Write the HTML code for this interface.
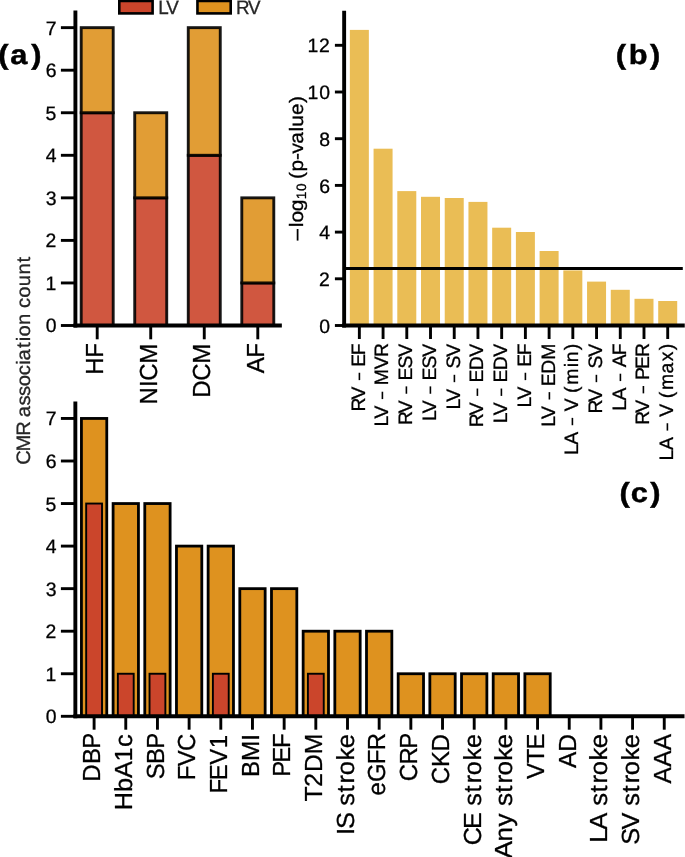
<!DOCTYPE html>
<html><head><meta charset="utf-8"><style>
html,body{margin:0;padding:0;background:#fff;}
body{width:685px;height:857px;overflow:hidden;}
svg{display:block;font-family:"Liberation Sans",sans-serif;will-change:transform;}
text{white-space:pre;text-rendering:geometricPrecision;}
</style></head><body>
<svg width="685" height="857" viewBox="0 0 685 857">
<rect width="685" height="857" fill="#fff"/>
<rect x="81.20" y="112.75" width="32.00" height="212.75" fill="#CB452B" stroke="#000" stroke-width="2.9" fill-opacity="0.9" stroke-opacity="0.9"/>
<rect x="81.20" y="27.65" width="32.00" height="85.10" fill="#DE921F" stroke="#000" stroke-width="2.9" fill-opacity="0.9" stroke-opacity="0.9"/>
<rect x="134.73" y="197.85" width="32.00" height="127.65" fill="#CB452B" stroke="#000" stroke-width="2.9" fill-opacity="0.9" stroke-opacity="0.9"/>
<rect x="134.73" y="112.75" width="32.00" height="85.10" fill="#DE921F" stroke="#000" stroke-width="2.9" fill-opacity="0.9" stroke-opacity="0.9"/>
<rect x="188.26" y="155.30" width="32.00" height="170.20" fill="#CB452B" stroke="#000" stroke-width="2.9" fill-opacity="0.9" stroke-opacity="0.9"/>
<rect x="188.26" y="27.65" width="32.00" height="127.65" fill="#DE921F" stroke="#000" stroke-width="2.9" fill-opacity="0.9" stroke-opacity="0.9"/>
<rect x="241.79" y="282.95" width="32.00" height="42.55" fill="#CB452B" stroke="#000" stroke-width="2.9" fill-opacity="0.9" stroke-opacity="0.9"/>
<rect x="241.79" y="197.85" width="32.00" height="85.10" fill="#DE921F" stroke="#000" stroke-width="2.9" fill-opacity="0.9" stroke-opacity="0.9"/>
<line x1="75.40" y1="10.60" x2="75.40" y2="327.45" stroke="#000" stroke-width="3.9" stroke-linecap="butt"/>
<line x1="73.45" y1="325.50" x2="281.85" y2="325.50" stroke="#000" stroke-width="3.9" stroke-linecap="butt"/>
<line x1="60.90" y1="325.50" x2="75.40" y2="325.50" stroke="#000" stroke-width="2.9" stroke-linecap="butt"/>
<text transform="translate(56.90 332.45) scale(1.0000 1)" x="-11.23" y="0" font-size="19.4" fill="#000" stroke="#000" stroke-width="0.3">0</text>
<line x1="60.90" y1="282.95" x2="75.40" y2="282.95" stroke="#000" stroke-width="2.9" stroke-linecap="butt"/>
<text transform="translate(56.90 289.90) scale(1.0000 1)" x="-11.33" y="0" font-size="19.4" fill="#000" stroke="#000" stroke-width="0.3">1</text>
<line x1="60.90" y1="240.40" x2="75.40" y2="240.40" stroke="#000" stroke-width="2.9" stroke-linecap="butt"/>
<text transform="translate(56.90 247.35) scale(1.0000 1)" x="-11.47" y="0" font-size="19.4" fill="#000" stroke="#000" stroke-width="0.3">2</text>
<line x1="60.90" y1="197.85" x2="75.40" y2="197.85" stroke="#000" stroke-width="2.9" stroke-linecap="butt"/>
<text transform="translate(56.90 204.80) scale(1.0000 1)" x="-11.20" y="0" font-size="19.4" fill="#000" stroke="#000" stroke-width="0.3">3</text>
<line x1="60.90" y1="155.30" x2="75.40" y2="155.30" stroke="#000" stroke-width="2.9" stroke-linecap="butt"/>
<text transform="translate(56.90 162.25) scale(1.0000 1)" x="-11.23" y="0" font-size="19.4" fill="#000" stroke="#000" stroke-width="0.3">4</text>
<line x1="60.90" y1="112.75" x2="75.40" y2="112.75" stroke="#000" stroke-width="2.9" stroke-linecap="butt"/>
<text transform="translate(56.90 119.70) scale(1.0000 1)" x="-11.30" y="0" font-size="19.4" fill="#000" stroke="#000" stroke-width="0.3">5</text>
<line x1="60.90" y1="70.20" x2="75.40" y2="70.20" stroke="#000" stroke-width="2.9" stroke-linecap="butt"/>
<text transform="translate(56.90 77.15) scale(1.0000 1)" x="-11.23" y="0" font-size="19.4" fill="#000" stroke="#000" stroke-width="0.3">6</text>
<line x1="60.90" y1="27.65" x2="75.40" y2="27.65" stroke="#000" stroke-width="2.9" stroke-linecap="butt"/>
<text transform="translate(56.90 34.60) scale(1.0000 1)" x="-11.27" y="0" font-size="19.4" fill="#000" stroke="#000" stroke-width="0.3">7</text>
<line x1="97.20" y1="325.50" x2="97.20" y2="339.30" stroke="#000" stroke-width="2.9" stroke-linecap="butt"/>
<text transform="translate(103.30 343.80) rotate(-90) scale(0.9700 1)" x="-31.80 -14.50" y="0" font-size="24.7" fill="#000" stroke="#000" stroke-width="0.3">HF</text>
<line x1="150.73" y1="325.50" x2="150.73" y2="339.30" stroke="#000" stroke-width="2.9" stroke-linecap="butt"/>
<text transform="translate(156.83 343.80) rotate(-90) scale(0.9700 1)" x="-62.56 -44.52 -38.20 -20.66" y="0" font-size="24.7" fill="#000" stroke="#000" stroke-width="0.3">NICM</text>
<line x1="204.26" y1="325.50" x2="204.26" y2="339.30" stroke="#000" stroke-width="2.9" stroke-linecap="butt"/>
<text transform="translate(210.36 343.80) rotate(-90) scale(0.9700 1)" x="-55.68 -38.20 -20.66" y="0" font-size="24.7" fill="#000" stroke="#000" stroke-width="0.3">DCM</text>
<line x1="257.79" y1="325.50" x2="257.79" y2="339.30" stroke="#000" stroke-width="2.9" stroke-linecap="butt"/>
<text transform="translate(263.89 343.80) rotate(-90) scale(0.9700 1)" x="-30.30 -14.50" y="0" font-size="24.7" fill="#000" stroke="#000" stroke-width="0.3">AF</text>
<rect x="119.30" y="0.95" width="33.30" height="12.45" fill="#CB452B" stroke="#000" stroke-width="2.6"/>
<text transform="translate(158.10 13.80) scale(0.9700 1)" x="0.27 8.44" y="0" font-size="19.4" fill="#262626" stroke="#262626" stroke-width="0.3">LV</text>
<rect x="197.45" y="0.95" width="33.25" height="12.45" fill="#DE921F" stroke="#000" stroke-width="2.6"/>
<text transform="translate(236.20 13.80) scale(0.9700 1)" x="-0.13 12.09" y="0" font-size="19.4" fill="#262626" stroke="#262626" stroke-width="0.3">RV</text>
<text transform="translate(-2.30 63.60) scale(1.1200 1)" x="0.54 11.28 30.03" y="0" font-size="27.5" fill="#000" font-weight="bold" stroke="#000" stroke-width="0.45">(a)</text>
<rect x="349.85" y="29.90" width="19.00" height="295.60" fill="#EABD55"/>
<rect x="373.57" y="148.70" width="19.00" height="176.80" fill="#EABD55"/>
<rect x="397.29" y="191.10" width="19.00" height="134.40" fill="#EABD55"/>
<rect x="421.01" y="196.80" width="19.00" height="128.70" fill="#EABD55"/>
<rect x="444.73" y="198.00" width="19.00" height="127.50" fill="#EABD55"/>
<rect x="468.45" y="201.90" width="19.00" height="123.60" fill="#EABD55"/>
<rect x="492.17" y="227.70" width="19.00" height="97.80" fill="#EABD55"/>
<rect x="515.89" y="232.00" width="19.00" height="93.50" fill="#EABD55"/>
<rect x="539.61" y="251.00" width="19.00" height="74.50" fill="#EABD55"/>
<rect x="563.33" y="270.40" width="19.00" height="55.10" fill="#EABD55"/>
<rect x="587.05" y="281.60" width="19.00" height="43.90" fill="#EABD55"/>
<rect x="610.77" y="289.80" width="19.00" height="35.70" fill="#EABD55"/>
<rect x="634.49" y="298.80" width="19.00" height="26.70" fill="#EABD55"/>
<rect x="658.21" y="301.00" width="19.00" height="24.50" fill="#EABD55"/>
<line x1="344.15" y1="268.50" x2="682.80" y2="268.50" stroke="#000" stroke-width="2.9" stroke-linecap="butt"/>
<line x1="344.15" y1="10.65" x2="344.15" y2="327.45" stroke="#000" stroke-width="3.9" stroke-linecap="butt"/>
<line x1="342.20" y1="325.50" x2="684.75" y2="325.50" stroke="#000" stroke-width="3.9" stroke-linecap="butt"/>
<line x1="334.90" y1="325.50" x2="344.15" y2="325.50" stroke="#000" stroke-width="2.9" stroke-linecap="butt"/>
<text transform="translate(330.40 332.60) scale(1.0000 1)" x="-11.23" y="0" font-size="19.4" fill="#000" stroke="#000" stroke-width="0.3">0</text>
<line x1="334.90" y1="278.80" x2="344.15" y2="278.80" stroke="#000" stroke-width="2.9" stroke-linecap="butt"/>
<text transform="translate(330.40 285.90) scale(1.0000 1)" x="-11.47" y="0" font-size="19.4" fill="#000" stroke="#000" stroke-width="0.3">2</text>
<line x1="334.90" y1="232.10" x2="344.15" y2="232.10" stroke="#000" stroke-width="2.9" stroke-linecap="butt"/>
<text transform="translate(330.40 239.20) scale(1.0000 1)" x="-11.23" y="0" font-size="19.4" fill="#000" stroke="#000" stroke-width="0.3">4</text>
<line x1="334.90" y1="185.40" x2="344.15" y2="185.40" stroke="#000" stroke-width="2.9" stroke-linecap="butt"/>
<text transform="translate(330.40 192.50) scale(1.0000 1)" x="-11.23" y="0" font-size="19.4" fill="#000" stroke="#000" stroke-width="0.3">6</text>
<line x1="334.90" y1="138.70" x2="344.15" y2="138.70" stroke="#000" stroke-width="2.9" stroke-linecap="butt"/>
<text transform="translate(330.40 145.80) scale(1.0000 1)" x="-11.23" y="0" font-size="19.4" fill="#000" stroke="#000" stroke-width="0.3">8</text>
<line x1="334.90" y1="92.00" x2="344.15" y2="92.00" stroke="#000" stroke-width="2.9" stroke-linecap="butt"/>
<text transform="translate(330.40 99.10) scale(1.0000 1)" x="-22.99 -11.23" y="0" font-size="19.4" fill="#000" stroke="#000" stroke-width="0.3">10</text>
<line x1="334.90" y1="45.30" x2="344.15" y2="45.30" stroke="#000" stroke-width="2.9" stroke-linecap="butt"/>
<text transform="translate(330.40 52.40) scale(1.0000 1)" x="-22.99 -11.47" y="0" font-size="19.4" fill="#000" stroke="#000" stroke-width="0.3">12</text>
<line x1="359.35" y1="325.50" x2="359.35" y2="339.00" stroke="#000" stroke-width="2.9" stroke-linecap="butt"/>
<text transform="translate(364.75 343.90) rotate(-90) scale(1.0000 1)" x="-67.56 -55.69 -42.72 -37.92 -27.73 -22.87 -11.24" y="0" font-size="19.4" fill="#000" stroke="#000" stroke-width="0.3">RV   EF</text>
<line x1="359.40" y1="380.12" x2="359.40" y2="372.75" stroke="#000" stroke-width="1.6" stroke-linecap="butt"/>
<line x1="383.07" y1="325.50" x2="383.07" y2="339.00" stroke="#000" stroke-width="2.9" stroke-linecap="butt"/>
<text transform="translate(388.47 343.90) rotate(-90) scale(1.0000 1)" x="-82.56 -74.65 -61.69 -56.89 -46.70 -41.26 -25.48 -13.08" y="0" font-size="19.4" fill="#000" stroke="#000" stroke-width="0.3">LV   MVR</text>
<line x1="382.40" y1="399.09" x2="382.40" y2="391.71" stroke="#000" stroke-width="1.6" stroke-linecap="butt"/>
<line x1="406.79" y1="325.50" x2="406.79" y2="339.00" stroke="#000" stroke-width="2.9" stroke-linecap="butt"/>
<text transform="translate(412.19 343.90) rotate(-90) scale(1.0000 1)" x="-81.19 -69.32 -56.36 -51.56 -41.36 -36.50 -24.73 -12.74" y="0" font-size="19.4" fill="#000" stroke="#000" stroke-width="0.3">RV   ESV</text>
<line x1="406.40" y1="393.75" x2="406.40" y2="386.38" stroke="#000" stroke-width="1.6" stroke-linecap="butt"/>
<line x1="430.51" y1="325.50" x2="430.51" y2="339.00" stroke="#000" stroke-width="2.9" stroke-linecap="butt"/>
<text transform="translate(435.91 343.90) rotate(-90) scale(1.0000 1)" x="-77.22 -69.32 -56.36 -51.56 -41.36 -36.50 -24.73 -12.74" y="0" font-size="19.4" fill="#000" stroke="#000" stroke-width="0.3">LV   ESV</text>
<line x1="430.40" y1="393.75" x2="430.40" y2="386.38" stroke="#000" stroke-width="1.6" stroke-linecap="butt"/>
<line x1="454.23" y1="325.50" x2="454.23" y2="339.00" stroke="#000" stroke-width="2.9" stroke-linecap="butt"/>
<text transform="translate(459.63 343.90) rotate(-90) scale(1.0000 1)" x="-65.64 -57.74 -44.77 -39.97 -29.78 -24.73 -12.74" y="0" font-size="19.4" fill="#000" stroke="#000" stroke-width="0.3">LV   SV</text>
<line x1="454.40" y1="382.17" x2="454.40" y2="374.80" stroke="#000" stroke-width="1.6" stroke-linecap="butt"/>
<line x1="477.95" y1="325.50" x2="477.95" y2="339.00" stroke="#000" stroke-width="2.9" stroke-linecap="butt"/>
<text transform="translate(483.35 343.90) rotate(-90) scale(1.0000 1)" x="-83.35 -71.48 -58.51 -53.71 -43.52 -38.66 -26.25 -12.74" y="0" font-size="19.4" fill="#000" stroke="#000" stroke-width="0.3">RV   EDV</text>
<line x1="477.40" y1="395.91" x2="477.40" y2="388.53" stroke="#000" stroke-width="1.6" stroke-linecap="butt"/>
<line x1="501.67" y1="325.50" x2="501.67" y2="339.00" stroke="#000" stroke-width="2.9" stroke-linecap="butt"/>
<text transform="translate(507.07 343.90) rotate(-90) scale(1.0000 1)" x="-79.38 -71.48 -58.51 -53.71 -43.52 -38.66 -26.25 -12.74" y="0" font-size="19.4" fill="#000" stroke="#000" stroke-width="0.3">LV   EDV</text>
<line x1="501.40" y1="395.91" x2="501.40" y2="388.53" stroke="#000" stroke-width="1.6" stroke-linecap="butt"/>
<line x1="525.39" y1="325.50" x2="525.39" y2="339.00" stroke="#000" stroke-width="2.9" stroke-linecap="butt"/>
<text transform="translate(530.79 343.90) rotate(-90) scale(1.0000 1)" x="-63.59 -55.69 -42.72 -37.92 -27.73 -22.87 -11.24" y="0" font-size="19.4" fill="#000" stroke="#000" stroke-width="0.3">LV   EF</text>
<line x1="525.40" y1="380.12" x2="525.40" y2="372.75" stroke="#000" stroke-width="1.6" stroke-linecap="butt"/>
<line x1="549.11" y1="325.50" x2="549.11" y2="339.00" stroke="#000" stroke-width="2.9" stroke-linecap="butt"/>
<text transform="translate(554.51 343.90) rotate(-90) scale(1.0000 1)" x="-82.98 -75.07 -62.11 -57.31 -47.12 -42.26 -29.85 -15.98" y="0" font-size="19.4" fill="#000" stroke="#000" stroke-width="0.3">LV   EDM</text>
<line x1="549.40" y1="399.51" x2="549.40" y2="392.13" stroke="#000" stroke-width="1.6" stroke-linecap="butt"/>
<line x1="572.83" y1="325.50" x2="572.83" y2="339.00" stroke="#000" stroke-width="2.9" stroke-linecap="butt"/>
<text transform="translate(578.23 343.90) rotate(-90) scale(1.0000 1)" x="-111.14 -100.80 -87.83 -83.03 -72.84 -67.44 -54.48 -49.01 -40.82 -23.46 -18.32 -6.31" y="0" font-size="19.4" fill="#000" stroke="#000" stroke-width="0.3">LA   V (min)</text>
<line x1="572.40" y1="425.23" x2="572.40" y2="417.86" stroke="#000" stroke-width="1.6" stroke-linecap="butt"/>
<line x1="596.55" y1="325.50" x2="596.55" y2="339.00" stroke="#000" stroke-width="2.9" stroke-linecap="butt"/>
<text transform="translate(601.95 343.90) rotate(-90) scale(1.0000 1)" x="-69.61 -57.74 -44.77 -39.97 -29.78 -24.73 -12.74" y="0" font-size="19.4" fill="#000" stroke="#000" stroke-width="0.3">RV   SV</text>
<line x1="596.40" y1="382.17" x2="596.40" y2="374.80" stroke="#000" stroke-width="1.6" stroke-linecap="butt"/>
<line x1="620.27" y1="325.50" x2="620.27" y2="339.00" stroke="#000" stroke-width="2.9" stroke-linecap="butt"/>
<text transform="translate(625.67 343.90) rotate(-90) scale(1.0000 1)" x="-66.98 -56.64 -43.68 -38.88 -28.69 -23.29 -11.24" y="0" font-size="19.4" fill="#000" stroke="#000" stroke-width="0.3">LA   AF</text>
<line x1="620.40" y1="381.08" x2="620.40" y2="373.70" stroke="#000" stroke-width="1.6" stroke-linecap="butt"/>
<line x1="643.99" y1="325.50" x2="643.99" y2="339.00" stroke="#000" stroke-width="2.9" stroke-linecap="butt"/>
<text transform="translate(649.39 343.90) rotate(-90) scale(1.0000 1)" x="-80.81 -68.93 -55.97 -51.17 -40.98 -36.01 -25.06 -13.08" y="0" font-size="19.4" fill="#000" stroke="#000" stroke-width="0.3">RV   PER</text>
<line x1="643.40" y1="393.37" x2="643.40" y2="385.99" stroke="#000" stroke-width="1.6" stroke-linecap="butt"/>
<line x1="667.71" y1="325.50" x2="667.71" y2="339.00" stroke="#000" stroke-width="2.9" stroke-linecap="butt"/>
<text transform="translate(673.11 343.90) rotate(-90) scale(1.0000 1)" x="-116.51 -106.17 -93.20 -88.40 -78.21 -72.81 -59.85 -54.38 -46.19 -29.70 -17.47 -6.31" y="0" font-size="19.4" fill="#000" stroke="#000" stroke-width="0.3">LA   V (max)</text>
<line x1="667.40" y1="430.60" x2="667.40" y2="423.23" stroke="#000" stroke-width="1.6" stroke-linecap="butt"/>
<line x1="297.60" y1="229.00" x2="297.60" y2="240.60" stroke="#000" stroke-width="1.75" stroke-linecap="butt"/>
<text transform="translate(303.30 227.40) rotate(-90) scale(1.0793 1)" x="0.20 4.52 15.02" y="0" font-size="19.4" fill="#000" stroke="#000" stroke-width="0.3">log</text>
<text transform="translate(306.40 199.50) rotate(-90) scale(1.0000 1)" x="0.23 8.46" y="0" font-size="13.6" fill="#000" stroke="#000" stroke-width="0.3">10</text>
<text transform="translate(303.30 178.70) rotate(-90) scale(1.0729 1)" x="-0.39 6.78 17.36 23.42 32.49 44.01 48.53 59.27 70.48" y="0" font-size="19.4" fill="#000" stroke="#000" stroke-width="0.3">(p-value)</text>
<text transform="translate(660.80 63.60) scale(1.1200 1)" x="-40.21 -28.63 -9.69" y="0" font-size="27.5" fill="#000" font-weight="bold" stroke="#000" stroke-width="0.45">(b)</text>
<rect x="81.43" y="418.45" width="25.34" height="297.85" fill="#DE921F" stroke="#000" stroke-width="2.8"/>
<rect x="86.18" y="503.55" width="15.84" height="212.75" fill="#CB452B" stroke="#000" stroke-width="1.9"/>
<rect x="113.10" y="503.55" width="25.34" height="212.75" fill="#DE921F" stroke="#000" stroke-width="2.8"/>
<rect x="117.85" y="673.75" width="15.84" height="42.55" fill="#CB452B" stroke="#000" stroke-width="1.9"/>
<rect x="144.78" y="503.55" width="25.34" height="212.75" fill="#DE921F" stroke="#000" stroke-width="2.8"/>
<rect x="149.53" y="673.75" width="15.84" height="42.55" fill="#CB452B" stroke="#000" stroke-width="1.9"/>
<rect x="176.46" y="546.10" width="25.34" height="170.20" fill="#DE921F" stroke="#000" stroke-width="2.8"/>
<rect x="208.13" y="546.10" width="25.34" height="170.20" fill="#DE921F" stroke="#000" stroke-width="2.8"/>
<rect x="212.88" y="673.75" width="15.84" height="42.55" fill="#CB452B" stroke="#000" stroke-width="1.9"/>
<rect x="239.81" y="588.65" width="25.34" height="127.65" fill="#DE921F" stroke="#000" stroke-width="2.8"/>
<rect x="271.48" y="588.65" width="25.34" height="127.65" fill="#DE921F" stroke="#000" stroke-width="2.8"/>
<rect x="303.15" y="631.20" width="25.34" height="85.10" fill="#DE921F" stroke="#000" stroke-width="2.8"/>
<rect x="307.90" y="673.75" width="15.84" height="42.55" fill="#CB452B" stroke="#000" stroke-width="1.9"/>
<rect x="334.83" y="631.20" width="25.34" height="85.10" fill="#DE921F" stroke="#000" stroke-width="2.8"/>
<rect x="366.50" y="631.20" width="25.34" height="85.10" fill="#DE921F" stroke="#000" stroke-width="2.8"/>
<rect x="398.18" y="673.75" width="25.34" height="42.55" fill="#DE921F" stroke="#000" stroke-width="2.8"/>
<rect x="429.85" y="673.75" width="25.34" height="42.55" fill="#DE921F" stroke="#000" stroke-width="2.8"/>
<rect x="461.53" y="673.75" width="25.34" height="42.55" fill="#DE921F" stroke="#000" stroke-width="2.8"/>
<rect x="493.20" y="673.75" width="25.34" height="42.55" fill="#DE921F" stroke="#000" stroke-width="2.8"/>
<rect x="524.88" y="673.75" width="25.34" height="42.55" fill="#DE921F" stroke="#000" stroke-width="2.8"/>
<line x1="75.35" y1="401.45" x2="75.35" y2="718.25" stroke="#000" stroke-width="3.9" stroke-linecap="butt"/>
<line x1="73.40" y1="716.30" x2="684.50" y2="716.30" stroke="#000" stroke-width="3.9" stroke-linecap="butt"/>
<line x1="60.90" y1="716.30" x2="75.35" y2="716.30" stroke="#000" stroke-width="2.9" stroke-linecap="butt"/>
<text transform="translate(56.90 723.25) scale(1.0000 1)" x="-11.23" y="0" font-size="19.4" fill="#000" stroke="#000" stroke-width="0.3">0</text>
<line x1="60.90" y1="673.75" x2="75.35" y2="673.75" stroke="#000" stroke-width="2.9" stroke-linecap="butt"/>
<text transform="translate(56.90 680.70) scale(1.0000 1)" x="-11.33" y="0" font-size="19.4" fill="#000" stroke="#000" stroke-width="0.3">1</text>
<line x1="60.90" y1="631.20" x2="75.35" y2="631.20" stroke="#000" stroke-width="2.9" stroke-linecap="butt"/>
<text transform="translate(56.90 638.15) scale(1.0000 1)" x="-11.47" y="0" font-size="19.4" fill="#000" stroke="#000" stroke-width="0.3">2</text>
<line x1="60.90" y1="588.65" x2="75.35" y2="588.65" stroke="#000" stroke-width="2.9" stroke-linecap="butt"/>
<text transform="translate(56.90 595.60) scale(1.0000 1)" x="-11.20" y="0" font-size="19.4" fill="#000" stroke="#000" stroke-width="0.3">3</text>
<line x1="60.90" y1="546.10" x2="75.35" y2="546.10" stroke="#000" stroke-width="2.9" stroke-linecap="butt"/>
<text transform="translate(56.90 553.05) scale(1.0000 1)" x="-11.23" y="0" font-size="19.4" fill="#000" stroke="#000" stroke-width="0.3">4</text>
<line x1="60.90" y1="503.55" x2="75.35" y2="503.55" stroke="#000" stroke-width="2.9" stroke-linecap="butt"/>
<text transform="translate(56.90 510.50) scale(1.0000 1)" x="-11.30" y="0" font-size="19.4" fill="#000" stroke="#000" stroke-width="0.3">5</text>
<line x1="60.90" y1="461.00" x2="75.35" y2="461.00" stroke="#000" stroke-width="2.9" stroke-linecap="butt"/>
<text transform="translate(56.90 467.95) scale(1.0000 1)" x="-11.23" y="0" font-size="19.4" fill="#000" stroke="#000" stroke-width="0.3">6</text>
<line x1="60.90" y1="418.45" x2="75.35" y2="418.45" stroke="#000" stroke-width="2.9" stroke-linecap="butt"/>
<text transform="translate(56.90 425.40) scale(1.0000 1)" x="-11.27" y="0" font-size="19.4" fill="#000" stroke="#000" stroke-width="0.3">7</text>
<line x1="94.10" y1="716.30" x2="94.10" y2="729.70" stroke="#000" stroke-width="2.9" stroke-linecap="butt"/>
<text transform="translate(100.40 734.00) rotate(-90) scale(0.9700 1)" x="-49.14 -31.02 -15.08" y="0" font-size="24.7" fill="#000" stroke="#000" stroke-width="0.3">DBP</text>
<line x1="125.77" y1="716.30" x2="125.77" y2="729.70" stroke="#000" stroke-width="2.9" stroke-linecap="butt"/>
<text transform="translate(132.07 734.00) rotate(-90) scale(1.0249 1)" x="-74.50 -56.53 -43.03 -26.76 -12.71" y="0" font-size="24.7" fill="#000" stroke="#000" stroke-width="0.3">HbA1c</text>
<line x1="157.45" y1="716.30" x2="157.45" y2="729.70" stroke="#000" stroke-width="2.9" stroke-linecap="butt"/>
<text transform="translate(163.75 734.00) rotate(-90) scale(0.9700 1)" x="-46.75 -31.02 -15.08" y="0" font-size="24.7" fill="#000" stroke="#000" stroke-width="0.3">SBP</text>
<line x1="189.12" y1="716.30" x2="189.12" y2="729.70" stroke="#000" stroke-width="2.9" stroke-linecap="butt"/>
<text transform="translate(195.43 734.00) rotate(-90) scale(0.9700 1)" x="-47.75 -33.26 -17.45" y="0" font-size="24.7" fill="#000" stroke="#000" stroke-width="0.3">FVC</text>
<line x1="220.80" y1="716.30" x2="220.80" y2="729.70" stroke="#000" stroke-width="2.9" stroke-linecap="butt"/>
<text transform="translate(227.10 734.00) rotate(-90) scale(0.9700 1)" x="-61.45 -47.66 -31.77 -14.65" y="0" font-size="24.7" fill="#000" stroke="#000" stroke-width="0.3">FEV1</text>
<line x1="252.47" y1="716.30" x2="252.47" y2="729.70" stroke="#000" stroke-width="2.9" stroke-linecap="butt"/>
<text transform="translate(258.77 734.00) rotate(-90) scale(0.9796 1)" x="-44.02 -27.58 -6.94" y="0" font-size="24.7" fill="#000" stroke="#000" stroke-width="0.3">BMI</text>
<line x1="284.15" y1="716.30" x2="284.15" y2="729.70" stroke="#000" stroke-width="2.9" stroke-linecap="butt"/>
<text transform="translate(290.45 734.00) rotate(-90) scale(0.9700 1)" x="-44.11 -29.74 -14.50" y="0" font-size="24.7" fill="#000" stroke="#000" stroke-width="0.3">PEF</text>
<line x1="315.82" y1="716.30" x2="315.82" y2="729.70" stroke="#000" stroke-width="2.9" stroke-linecap="butt"/>
<text transform="translate(322.12 734.00) rotate(-90) scale(0.9993 1)" x="-67.64 -52.73 -38.02 -20.35" y="0" font-size="24.7" fill="#000" stroke="#000" stroke-width="0.3">T2DM</text>
<line x1="347.50" y1="716.30" x2="347.50" y2="729.70" stroke="#000" stroke-width="2.9" stroke-linecap="butt"/>
<text transform="translate(353.80 734.00) rotate(-90) scale(1.0342 1)" x="-97.57 -91.76 -76.33 -69.45 -56.64 -47.79 -39.90 -25.64 -13.76" y="0" font-size="24.7" fill="#000" stroke="#000" stroke-width="0.3">IS stroke</text>
<line x1="379.17" y1="716.30" x2="379.17" y2="729.70" stroke="#000" stroke-width="2.9" stroke-linecap="butt"/>
<text transform="translate(385.47 734.00) rotate(-90) scale(0.9700 1)" x="-63.40 -49.48 -31.21 -16.88" y="0" font-size="24.7" fill="#000" stroke="#000" stroke-width="0.3">eGFR</text>
<line x1="410.85" y1="716.30" x2="410.85" y2="729.70" stroke="#000" stroke-width="2.9" stroke-linecap="butt"/>
<text transform="translate(417.15 734.00) rotate(-90) scale(0.9700 1)" x="-48.66 -31.38 -15.08" y="0" font-size="24.7" fill="#000" stroke="#000" stroke-width="0.3">CRP</text>
<line x1="442.52" y1="716.30" x2="442.52" y2="729.70" stroke="#000" stroke-width="2.9" stroke-linecap="butt"/>
<text transform="translate(448.82 734.00) rotate(-90) scale(0.9700 1)" x="-51.74 -34.09 -18.13" y="0" font-size="24.7" fill="#000" stroke="#000" stroke-width="0.3">CKD</text>
<line x1="474.20" y1="716.30" x2="474.20" y2="729.70" stroke="#000" stroke-width="2.9" stroke-linecap="butt"/>
<text transform="translate(480.50 734.00) rotate(-90) scale(1.0157 1)" x="-109.47 -93.47 -77.66 -70.61 -57.61 -48.57 -40.51 -25.98 -13.89" y="0" font-size="24.7" fill="#000" stroke="#000" stroke-width="0.3">CE stroke</text>
<line x1="505.88" y1="716.30" x2="505.88" y2="729.70" stroke="#000" stroke-width="2.9" stroke-linecap="butt"/>
<text transform="translate(512.17 734.00) rotate(-90) scale(1.0597 1)" x="-117.40 -101.47 -87.34 -74.58 -67.93 -55.36 -46.75 -39.11 -25.19 -13.60" y="0" font-size="24.7" fill="#000" stroke="#000" stroke-width="0.3">Any stroke</text>
<line x1="537.55" y1="716.30" x2="537.55" y2="729.70" stroke="#000" stroke-width="2.9" stroke-linecap="butt"/>
<text transform="translate(543.85 734.00) rotate(-90) scale(0.9700 1)" x="-46.36 -30.08 -15.91" y="0" font-size="24.7" fill="#000" stroke="#000" stroke-width="0.3">VTE</text>
<line x1="569.23" y1="716.30" x2="569.23" y2="729.70" stroke="#000" stroke-width="2.9" stroke-linecap="butt"/>
<text transform="translate(575.52 734.00) rotate(-90) scale(0.9887 1)" x="-34.48 -17.97" y="0" font-size="24.7" fill="#000" stroke="#000" stroke-width="0.3">AD</text>
<line x1="600.90" y1="716.30" x2="600.90" y2="729.70" stroke="#000" stroke-width="2.9" stroke-linecap="butt"/>
<text transform="translate(607.20 734.00) rotate(-90) scale(1.0408 1)" x="-104.52 -91.91 -75.87 -69.05 -56.30 -47.51 -39.69 -25.52 -13.72" y="0" font-size="24.7" fill="#000" stroke="#000" stroke-width="0.3">LA stroke</text>
<line x1="632.58" y1="716.30" x2="632.58" y2="729.70" stroke="#000" stroke-width="2.9" stroke-linecap="butt"/>
<text transform="translate(638.88 734.00) rotate(-90) scale(1.0261 1)" x="-107.97 -93.11 -76.91 -69.95 -57.05 -48.12 -40.16 -25.79 -13.82" y="0" font-size="24.7" fill="#000" stroke="#000" stroke-width="0.3">SV stroke</text>
<line x1="664.25" y1="716.30" x2="664.25" y2="729.70" stroke="#000" stroke-width="2.9" stroke-linecap="butt"/>
<text transform="translate(670.55 734.00) rotate(-90) scale(0.9950 1)" x="-49.65 -32.96 -16.26" y="0" font-size="24.7" fill="#000" stroke="#000" stroke-width="0.3">AAA</text>
<text transform="translate(661.00 501.70) scale(1.1200 1)" x="-37.14 -26.92 -9.69" y="0" font-size="27.5" fill="#000" font-weight="bold" stroke="#000" stroke-width="0.45">(c)</text>
<text transform="translate(30.30 359.90) rotate(-90) scale(1.0416 1)" x="-100.70 -87.93 -72.89 -59.94 -55.13 -43.80 -34.63 -25.33 -14.79 -4.59 -0.68 11.49 17.99 22.57 33.56 44.60 49.86 59.76 70.68 81.90 93.54" y="0" font-size="19.4" fill="#262626" stroke="#262626" stroke-width="0.3">CMR association count</text>
</svg>
</body></html>
